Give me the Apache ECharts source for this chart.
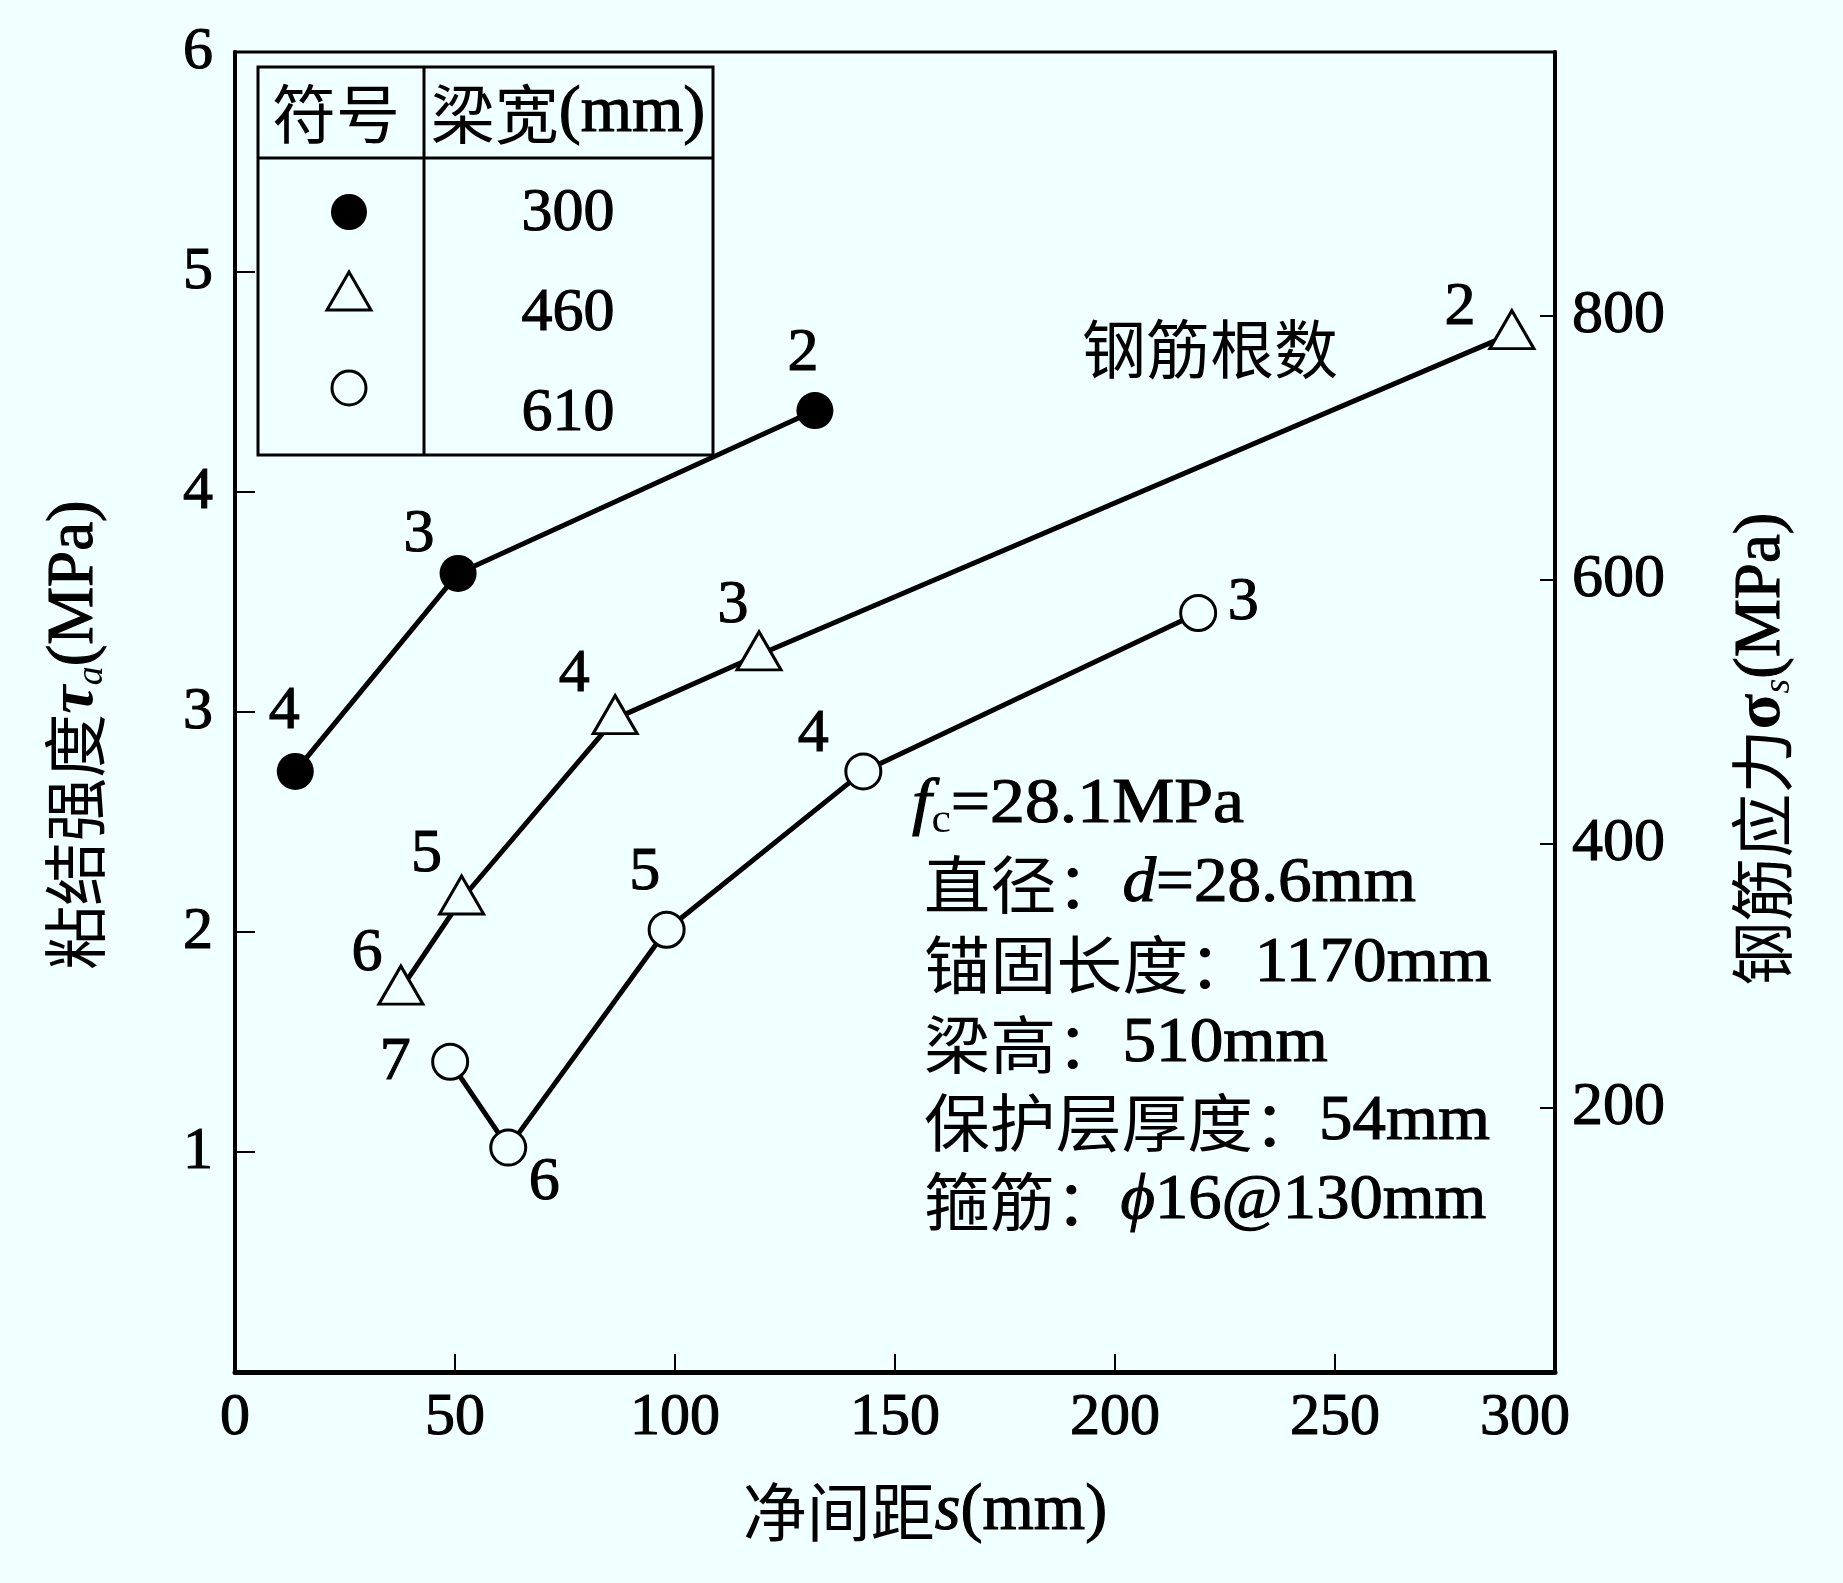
<!DOCTYPE html>
<html>
<head>
<meta charset="utf-8">
<script src="https://cdn.jsdelivr.net/npm/echarts@6/dist/echarts.min.js"></script>
<style>
html,body{margin:0;padding:0;background:#f0ffff;}
#c{width:1843px;height:1583px;}
</style>
</head>
<body>
<div id="c"></div>
<script>
// ---------------- data ----------------
const seriesNames = ['300', '460', '610'];          // 梁宽 (mm)
const x300 = [13.7, 50.7, 131.8];                   // 净间距 s (mm)
const y300 = [2.73, 3.63, 4.37];                    // 粘结强度 τa (MPa)
const n300 = [4, 3, 2];                             // 钢筋根数
const x460 = [37.7, 51.5, 86.4, 119.1, 290.2];
const y460 = [1.74, 2.15, 2.97, 3.26, 4.72];
const n460 = [6, 5, 4, 3, 2];
const x610 = [48.9, 62.1, 98.1, 142.8, 218.9];
const y610 = [1.41, 1.02, 2.01, 2.73, 3.45];
const n610 = [7, 6, 5, 4, 3];
const infoLines = [
  ['fc', '=28.1MPa'],
  ['直径：', 'd', '=28.6mm'],
  ['锚固长度：', '1170mm'],
  ['梁高：', '510mm'],
  ['保护层厚度：', '54mm'],
  ['箍筋：', 'ϕ', '16@130mm']
];

// ---------------- styles ----------------
const BG = '#f0ffff';
const SERIF = "'Liberation Serif','Times New Roman',serif";
const CJK = "'Noto Sans CJK SC','Noto Sans CJK TC',sans-serif";
const TB = 1.1; // slight emboldening of serif digits, like the scanned original
const off300 = [[-11, -60], [-39, -39], [-12, -57]];
const off460 = [[-34, -31], [-35, -40], [-41, -40], [-26, -45], [-52, -22]];
const off610 = [[-55, 1], [36, 35], [-22, -57], [-50, -37], [45, -10]];

function build(xs, ys, ns, offs) {
  return xs.map((x, i) => ({ value: [x, ys[i], ns[i]], label: { offset: offs[i] } }));
}
const labelBase = {
  show: true, position: 'inside', formatter: p => String(p.value[2]),
  fontFamily: SERIF, fontSize: 62, color: '#000', textBorderColor: '#000', textBorderWidth: TB
};

const chart = echarts.init(document.getElementById('c'), null, { renderer: 'canvas' });

const G = { left: 235, top: 52, width: 1320, height: 1320 };
const lg = { x: 258, y: 67, w: 455, h: 388, hy: 158, cx: 424 };

function serifText(x, y, text, size) {
  return { type: 'text', x: x, y: y, z: 101, style: { text: text, font: size + 'px ' + SERIF, fill: '#000', stroke: '#000', lineWidth: TB, align: 'center', verticalAlign: 'middle' } };
}

const graphics = [
  // legend table
  { type: 'rect', shape: { x: lg.x, y: lg.y, width: lg.w, height: lg.h }, style: { fill: BG, stroke: '#000', lineWidth: 3 }, z: 100 },
  { type: 'line', shape: { x1: lg.x, y1: lg.hy, x2: lg.x + lg.w, y2: lg.hy }, style: { stroke: '#000', lineWidth: 3 }, z: 101 },
  { type: 'line', shape: { x1: lg.cx, y1: lg.y, x2: lg.cx, y2: lg.y + lg.h }, style: { stroke: '#000', lineWidth: 3 }, z: 101 },
  { type: 'text', x: 336, y: 114, z: 101, style: { text: '符号', font: "64px " + CJK, fill: '#000', align: 'center', verticalAlign: 'middle' } },
  { type: 'text', x: 568, y: 114, z: 101, style: {
      text: '{c|梁宽}{n|(mm)}', align: 'center', verticalAlign: 'middle',
      rich: { c: { fontFamily: CJK, fontSize: 64, fill: '#000' }, n: { fontFamily: SERIF, fontSize: 66, fill: '#000', stroke: '#000', lineWidth: TB } } } },
  { type: 'circle', shape: { cx: 349, cy: 212, r: 18 }, style: { fill: '#000' }, z: 101 },
  { type: 'polygon', shape: { points: [[327, 310], [349, 272], [371, 310]] }, style: { fill: BG, stroke: '#000', lineWidth: 3 }, z: 101 },
  { type: 'circle', shape: { cx: 349, cy: 388, r: 17 }, style: { fill: BG, stroke: '#000', lineWidth: 3 }, z: 101 },
  serifText(568, 214, seriesNames[0], 62),
  serifText(568, 314, seriesNames[1], 62),
  serifText(568, 414, seriesNames[2], 62),
  // 钢筋根数
  { type: 'text', x: 1210, y: 349, z: 101, style: { text: '钢筋根数', font: "64px " + CJK, fill: '#000', align: 'center', verticalAlign: 'middle' } }
];

// info block
const infoRich = {
  c: { fontFamily: CJK, fontSize: 63, fill: '#000', lineHeight: 72 },
  n: { fontFamily: SERIF, fontSize: 64, fill: '#000', stroke: '#000', lineWidth: TB, lineHeight: 72 },
  i: { fontFamily: SERIF, fontSize: 64, fontStyle: 'italic', fill: '#000', stroke: '#000', lineWidth: TB, lineHeight: 72 },
  sub: { fontFamily: SERIF, fontSize: 40, fill: '#000', lineHeight: 20, verticalAlign: 'bottom' }
};
const infoY = [805, 884, 964, 1044, 1122, 1201];
const infoScale = [1.09, 1.05, 1.05, 1.05, 1.045, 1.04];
const infoText = [
  '{i|' + infoLines[0][0][0] + '}{sub|' + infoLines[0][0][1] + '}{n|' + infoLines[0][1] + '}',
  '{c|' + infoLines[1][0] + '}{i|' + infoLines[1][1] + '}{n|' + infoLines[1][2] + '}',
  '{c|' + infoLines[2][0] + '}{n|' + infoLines[2][1] + '}',
  '{c|' + infoLines[3][0] + '}{n|' + infoLines[3][1] + '}',
  '{c|' + infoLines[4][0] + '}{n|' + infoLines[4][1] + '}',
  '{c|' + infoLines[5][0] + '}{i|' + infoLines[5][1] + '}{n|' + infoLines[5][2] + '}'
];
infoText.forEach((t, k) => {
  graphics.push({ type: 'text', x: k === 0 ? 912 : 924, y: infoY[k], z: 101, scaleX: infoScale[k],
    style: { text: t, rich: infoRich, align: 'left', verticalAlign: 'middle' } });
});

const option = {
  backgroundColor: BG,
  animation: false,
  grid: { left: G.left, top: G.top, width: G.width, height: G.height, show: true, borderColor: '#000', borderWidth: 3, backgroundColor: 'transparent' },
  xAxis: {
    type: 'value', min: 0, max: 300, interval: 50, position: 'bottom',
    axisLine: { show: true, onZero: false, lineStyle: { color: '#000', width: 5 } },
    axisTick: { show: true, inside: true, length: 18, lineStyle: { color: '#000', width: 2 } },
    axisLabel: { fontFamily: SERIF, fontSize: 60, color: '#000', margin: 16, textBorderColor: '#000', textBorderWidth: TB,
      formatter: v => v === 300 ? '{r|300}' : String(v),
      rich: { r: { fontFamily: SERIF, fontSize: 60, color: '#000', textBorderColor: '#000', textBorderWidth: TB, padding: [0, 60, 0, 0] } } },
    splitLine: { show: false },
    name: '{c|净间距}{i|s}{n|(mm)}', nameLocation: 'middle', nameGap: 104,
    nameTextStyle: { padding: [0, 0, 0, 60], rich: {
      c: { fontFamily: CJK, fontSize: 64, color: '#000', lineHeight: 72 },
      i: { fontFamily: SERIF, fontSize: 66, fontStyle: 'italic', color: '#000', lineHeight: 72, textBorderColor: '#000', textBorderWidth: TB },
      n: { fontFamily: SERIF, fontSize: 66, color: '#000', lineHeight: 72, textBorderColor: '#000', textBorderWidth: TB } } }
  },
  yAxis: [
    {
      type: 'value', min: 0, max: 6, interval: 1, position: 'left',
      axisLine: { show: true, onZero: false, lineStyle: { color: '#000', width: 4 } },
      axisTick: { show: true, inside: true, length: 20, lineStyle: { color: '#000', width: 2 } },
      axisLabel: { fontFamily: SERIF, fontSize: 60, color: '#000', margin: 22, textBorderColor: '#000', textBorderWidth: TB, formatter: v => v === 0 ? '' : String(v) },
      splitLine: { show: false },
      name: '{c|粘结强度}{t|τ}{sub|a}{n|(MPa)}', nameLocation: 'middle', nameRotate: 90, nameGap: 124,
      nameTextStyle: { padding: [0, 46, 0, 0], rich: {
        c: { fontFamily: CJK, fontSize: 64, color: '#000', lineHeight: 72 },
        t: { fontFamily: SERIF, fontSize: 64, fontStyle: 'italic', fontWeight: 'bold', color: '#000', lineHeight: 72 },
        sub: { fontFamily: SERIF, fontSize: 38, fontStyle: 'italic', color: '#000', lineHeight: 20, verticalAlign: 'bottom' },
        n: { fontFamily: SERIF, fontSize: 65, color: '#000', lineHeight: 72, textBorderColor: '#000', textBorderWidth: TB } } }
    },
    {
      type: 'value', min: 0, max: 1000, interval: 200, position: 'right',
      axisLine: { show: true, onZero: false, lineStyle: { color: '#000', width: 4 } },
      axisTick: { show: true, inside: true, length: 15, lineStyle: { color: '#000', width: 2 } },
      axisLabel: { fontFamily: SERIF, fontSize: 62, color: '#000', margin: 17, textBorderColor: '#000', textBorderWidth: TB, formatter: v => (v === 0 || v === 1000) ? '' : String(v) },
      splitLine: { show: false },
      name: '{c|钢筋应力}{s|σ}{sub|s}{n|(MPa)}', nameLocation: 'middle', nameRotate: 90, nameGap: 171,
      nameTextStyle: { padding: [0, 74, 0, 0], rich: {
        c: { fontFamily: CJK, fontSize: 64, color: '#000', lineHeight: 72 },
        s: { fontFamily: SERIF, fontSize: 66, fontWeight: 'bold', color: '#000', lineHeight: 72 },
        sub: { fontFamily: SERIF, fontSize: 38, fontStyle: 'italic', color: '#000', lineHeight: 20, verticalAlign: 'bottom' },
        n: { fontFamily: SERIF, fontSize: 65, color: '#000', lineHeight: 72, textBorderColor: '#000', textBorderWidth: TB } } }
    }
  ],
  series: [
    {
      name: seriesNames[0], type: 'line', yAxisIndex: 0, data: build(x300, y300, n300, off300),
      symbol: 'circle', symbolSize: 37,
      itemStyle: { color: '#000' }, lineStyle: { color: '#000', width: 5 },
      label: labelBase, z: 3
    },
    {
      name: seriesNames[1], type: 'line', yAxisIndex: 0, data: build(x460, y460, n460, off460),
      symbol: 'triangle', symbolSize: [44, 38], symbolOffset: [0, -4],
      itemStyle: { color: BG, borderColor: '#000', borderWidth: 3 }, lineStyle: { color: '#000', width: 5 },
      label: labelBase, z: 3
    },
    {
      name: seriesNames[2], type: 'line', yAxisIndex: 0, data: build(x610, y610, n610, off610),
      symbol: 'circle', symbolSize: 35,
      itemStyle: { color: BG, borderColor: '#000', borderWidth: 3 }, lineStyle: { color: '#000', width: 5 },
      label: labelBase, z: 3
    }
  ],
  graphic: graphics
};
chart.setOption(option);
</script>
</body>
</html>
